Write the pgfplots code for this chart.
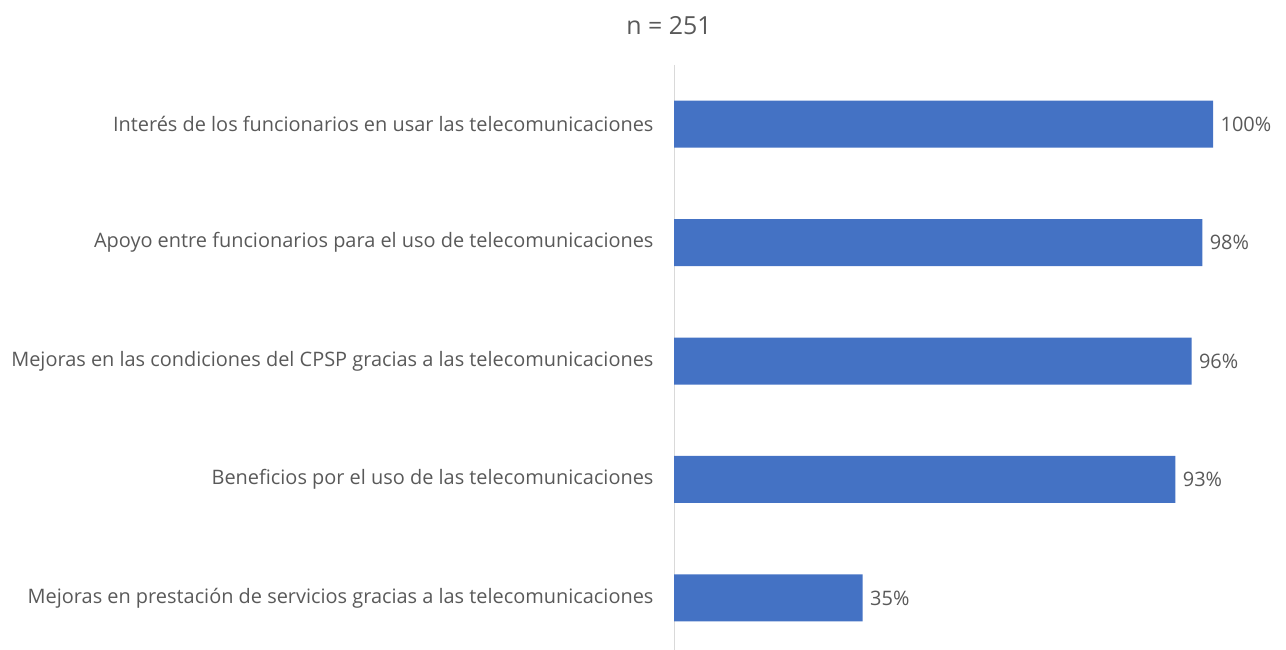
\documentclass[border=0pt]{standalone}
\usepackage{pgfplots}
\pgfplotsset{compat=1.18}
\usepackage{fontspec}
\setmainfont{Open Sans}
\definecolor{barblue}{HTML}{4472C4}
\definecolor{txtgray}{HTML}{595959}
\definecolor{axgray}{HTML}{D9D9D9}
\begin{document}
\begin{tikzpicture}[x=1bp,y=1bp]
\path[use as bounding box] (0,0) rectangle (1286,650);
\begin{axis}[
  at={(674bp,0bp)}, anchor=south west,
  scale only axis,
  width=593bp, height=585bp,
  xmin=0, xmax=110,
  ymin=-0.5, ymax=4.44,
  y dir=reverse,
  xbar, bar width=47bp,
  axis x line=none,
  axis y line=left,
  y axis line style={draw=axgray, line width=1bp, -},
  ytick={0,1,2,3,4},
  yticklabels={
    Interés de los funcionarios en usar las telecomunicaciones,
    Apoyo entre funcionarios para el uso de telecomunicaciones,
    Mejoras en las condiciones del CPSP gracias a las telecomunicaciones,
    Beneficios por el uso de las telecomunicaciones,
    Mejoras en prestación de servicios gracias a las telecomunicaciones},
  major tick length=0pt,
  yticklabel style={font=\fontsize{20}{24}\selectfont, text=txtgray, xshift=-17bp},
  /pgf/number format/assume math mode=true,
  nodes near coords={\pgfmathprintnumber{\pgfplotspointmeta}\%},
  nodes near coords style={font=\fontsize{20}{24}\selectfont, text=txtgray, anchor=west, xshift=4bp},
  point meta=x,
  clip=false,
]
\addplot[fill=barblue, draw=none] coordinates {
  (100,0) (98,1) (96,2) (93,3) (35,4)
};
\end{axis}
\node[text=txtgray, font=\fontsize{25}{29}\selectfont] at (669,624) {n = 251};
\end{tikzpicture}
\end{document}
